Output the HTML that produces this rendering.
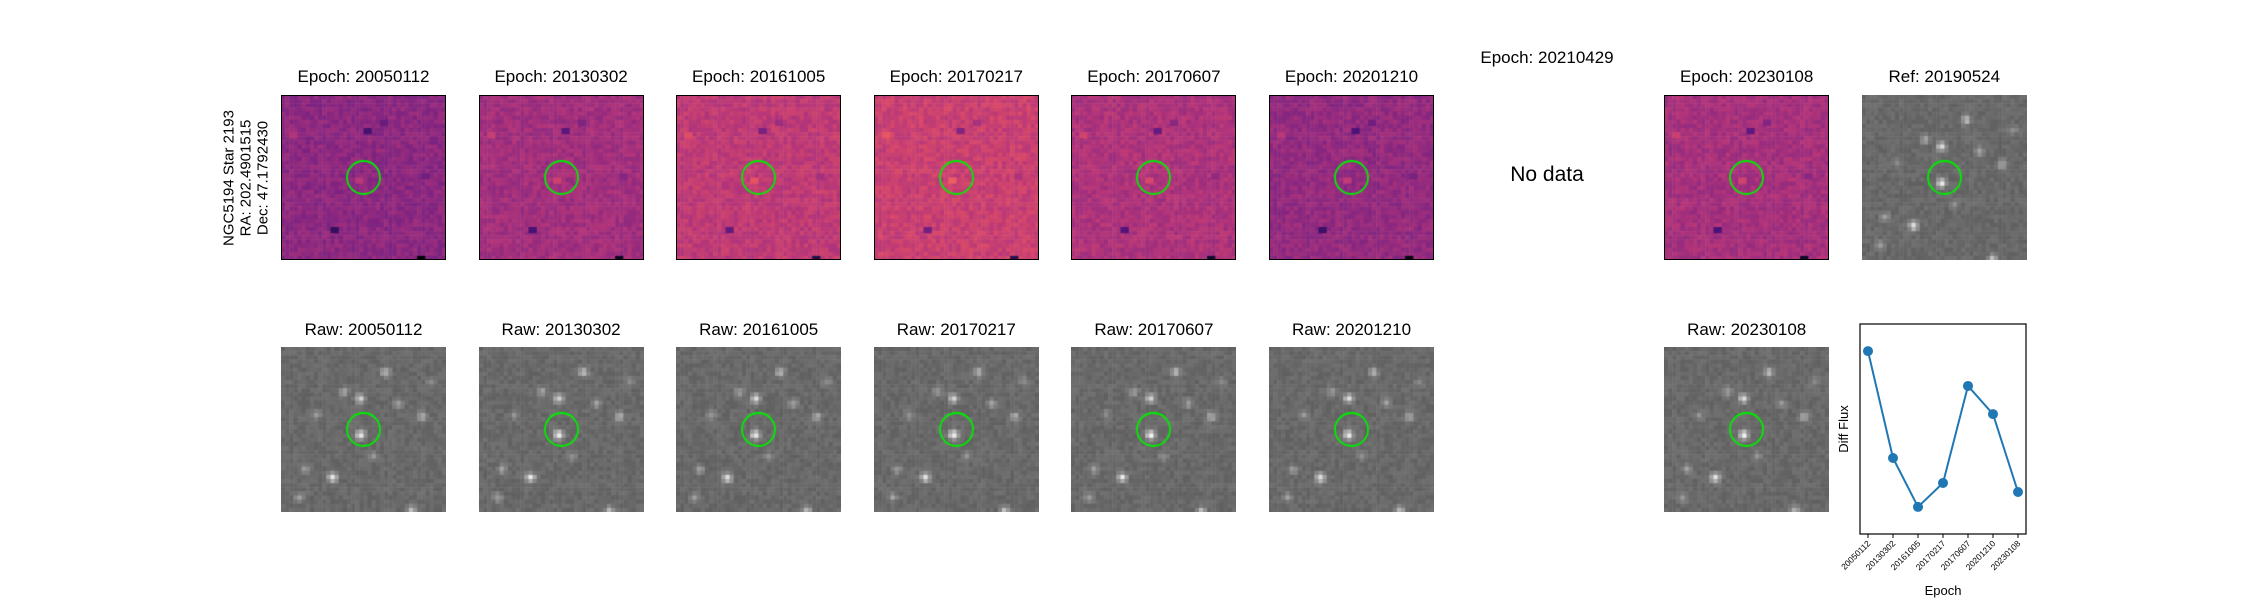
<!DOCTYPE html>
<html><head><meta charset="utf-8">
<style>
body{margin:0;background:#fff;}
#wrap{position:relative;width:2250px;height:600px;overflow:hidden;font-family:"Liberation Sans","DejaVu Sans",sans-serif;}
.t{position:absolute;font-size:17px;color:#000;white-space:nowrap;transform:translateX(-50%);}
canvas{position:absolute;}
.box{position:absolute;border:1.5px solid #000;box-sizing:border-box;}
</style></head><body>
<div id="wrap">
<div style="position:absolute;left:246px;top:178px;transform:translate(-50%,-50%) rotate(-90deg);font-size:15px;line-height:17px;text-align:center;white-space:nowrap">NGC5194 Star 2193<br>RA: 202.4901515<br>Dec: 47.1792430</div>
<div class="t" style="left:1547px;top:48px">Epoch: 20210429</div>
<div class="t" style="left:1547px;top:163px;font-size:21px">No data</div>
<svg id="plot" width="2250" height="600" style="position:absolute;left:0;top:0"></svg>
</div>
<script>
const epochs=["20050112","20130302","20161005","20170217","20170607","20201210","20230108"];
const flux=[0.871,0.362,0.129,0.243,0.705,0.571,0.200];
const cols=[0,1,2,3,4,5,7];
const wrap=document.getElementById('wrap');
function rng(s){return function(){s=(s*16807)%2147483647;return s/2147483647;}}
const magma=[[0,0,4],[28,16,68],[79,18,123],[129,37,129],[181,54,122],[229,80,100],[251,135,97],[252,253,191]];
function mag(v){v=Math.max(0,Math.min(1,v));const p=v*7,i=Math.min(6,Math.floor(p)),f=p-i;const a=magma[i],b=magma[i+1];return 'rgb('+a.map((c,k)=>Math.round(c+(b[k]-c)*f)).join(',')+')';}
const stars=[[0.47,0.52,1],[0.47,0.3,0.8],[0.62,0.14,0.6],[0.3,0.78,0.9],[0.84,0.41,0.5],[0.13,0.73,0.4],[0.37,0.26,0.4],[0.7,0.33,0.4],[0.2,0.4,0.3],[0.55,0.65,0.3],[0.9,0.2,0.3],[0.1,0.9,0.4],[0.78,0.98,0.6]];
const W=165,N=40,cs=W/N;
function colX(c){return 281+c*197.6;}
function title(x,y,txt,name){const d=document.createElement('div');d.className='t';d.style.left=(x+W/2)+'px';d.style.top=y+'px';d.textContent=txt;

wrap.appendChild(d);}
function circ(ctx){ctx.strokeStyle='#00ee00';ctx.lineWidth=1.8;ctx.beginPath();ctx.arc(W*0.5,W*0.5,16.5,0,7);ctx.stroke();}
function diffImg(x,y,seed,base,amp){const c=document.createElement('canvas');c.width=W;c.height=W;c.style.left=x+'px';c.style.top=y+'px';


const ctx=c.getContext('2d');const r=rng(seed);
for(let i=0;i<N;i++)for(let j=0;j<N;j++){let v=base+(r()-0.5)*amp;ctx.fillStyle=mag(v);ctx.fillRect(i*cs,j*cs,cs+0.5,cs+0.5);}
[[0.5,0.22,-0.2],[0.46,0.5,0.12],[0.31,0.82,-0.25],[0.83,0.98,-0.45],[0.62,0.15,-0.1],[0.85,0.48,-0.08],[0.06,0.23,0.1]].forEach(s=>{ctx.fillStyle=mag(base+s[2]);ctx.fillRect(Math.floor(s[0]*N)*cs,Math.floor(s[1]*N)*cs,cs*2,cs*1.5);});
circ(ctx);wrap.appendChild(c);
const b=document.createElement('div');b.className='box';b.style.left=x+'px';b.style.top=y+'px';b.style.width=W+'px';b.style.height=W+'px';

wrap.appendChild(b);}
function rawImg(x,y,seed,circle){const c=document.createElement('canvas');c.width=W;c.height=W;c.style.left=x+'px';c.style.top=y+'px';


const ctx=c.getContext('2d');const r=rng(seed);
for(let i=0;i<N;i++)for(let j=0;j<N;j++){let v=105+(r()-0.5)*18;stars.forEach(s=>{const dx=i-s[0]*N,dy=j-s[1]*N;v+=s[2]*140*Math.exp(-(dx*dx+dy*dy)/1.2);});v=Math.min(255,v);ctx.fillStyle='rgb('+(v|0)+','+(v|0)+','+(v|0)+')';ctx.fillRect(i*cs,j*cs,cs+0.5,cs+0.5);}
if(circle)circ(ctx);wrap.appendChild(c);}
const bases=[0.46,0.52,0.6,0.63,0.55,0.48,0.53];
epochs.forEach((e,k)=>{const x=colX(cols[k]);
title(x,67,'Epoch: '+e,'diff-title-'+e);diffImg(x,95,k*97+11,bases[k],0.1);
title(x,320,'Raw: '+e,'raw-title-'+e);rawImg(x,347,k*53+7,true);});
title(colX(8),67,'Ref: 20190524','reference-title');rawImg(colX(8),95,999,true);
const svg=document.getElementById('plot');const NS='http://www.w3.org/2000/svg';
const ax={x0:1860,x1:2026,y0:534,y1:324};
function sx(i){return ax.x0+8+i*(ax.x1-ax.x0-16)/(epochs.length-1);}
function sy(v){return ax.y0+(ax.y1-ax.y0)*v;}
function el(t,a,name){const e=document.createElementNS(NS,t);for(const k in a)e.setAttribute(k,a[k]);

svg.appendChild(e);return e;}
el('rect',{x:ax.x0,y:ax.y1,width:ax.x1-ax.x0,height:ax.y0-ax.y1,fill:'none',stroke:'#000','stroke-width':1.2},'plot-frame');
el('polyline',{points:flux.map((v,i)=>sx(i)+','+sy(v)).join(' '),fill:'none',stroke:'#1f77b4','stroke-width':2},'flux-line');
flux.forEach((v,i)=>{el('circle',{cx:sx(i),cy:sy(v),r:5,fill:'#1f77b4'},'flux-point');
el('line',{x1:sx(i),x2:sx(i),y1:ax.y0,y2:ax.y0+4,stroke:'#000'},'x-tick');
const t=el('text',{x:sx(i)+3,y:ax.y0+10,'font-size':8.5,'text-anchor':'end',transform:'rotate(-45 '+(sx(i)+3)+' '+(ax.y0+10)+')','font-family':'Liberation Sans'},'x-tick-label');t.textContent=epochs[i];});
const yl=el('text',{x:1848,y:429,'font-size':13,'text-anchor':'middle',transform:'rotate(-90 1848 429)','font-family':'Liberation Sans'},'y-axis-title');yl.textContent='Diff Flux';
const xl=el('text',{x:1943,y:595,'font-size':13,'text-anchor':'middle','font-family':'Liberation Sans'},'x-axis-title');xl.textContent='Epoch';
</script>
</body></html>
